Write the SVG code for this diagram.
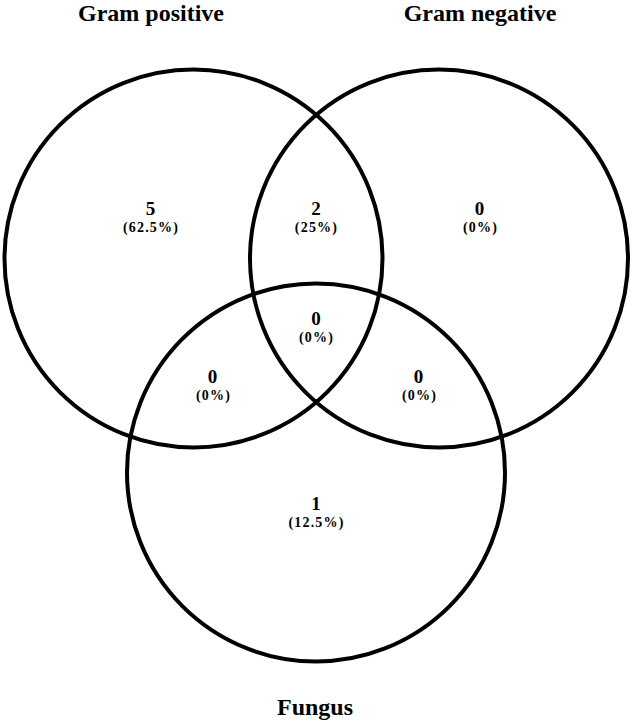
<svg xmlns="http://www.w3.org/2000/svg" width="632" height="721" viewBox="0 0 632 721">
<style>
.c{fill:none;stroke:#000;stroke-width:4}
text{font-family:'Liberation Serif','Times New Roman','DejaVu Serif',serif;font-weight:700;fill:#000;text-anchor:middle}
.title{font-size:24px}
.n{font-size:19px}
.p{font-size:14px;letter-spacing:1.2px}
</style>
<rect width="632" height="721" fill="#fff"/>
<g id="gram-positive">
<circle class="c" cx="193.5" cy="258.5" r="189"/>
<text class="title" x="151" y="21">Gram positive</text>
</g>
<g id="gram-negative">
<circle class="c" cx="439" cy="258.5" r="189"/>
<text class="title" x="480" y="21">Gram negative</text>
</g>
<g id="fungus">
<circle class="c" cx="316" cy="472.5" r="189"/>
<text class="title" x="315" y="715">Fungus</text>
</g>
<g id="labels">
<text class="n" x="150.5" y="215">5</text>
<text class="p" x="151" y="232">(62.5%)</text>
<text class="n" x="316" y="215">2</text>
<text class="p" x="316.5" y="232">(25%)</text>
<text class="n" x="479.5" y="215">0</text>
<text class="p" x="480.5" y="232">(0%)</text>
<text class="n" x="316" y="325">0</text>
<text class="p" x="316.5" y="342">(0%)</text>
<text class="n" x="212.5" y="383">0</text>
<text class="p" x="213.5" y="400">(0%)</text>
<text class="n" x="418.5" y="383">0</text>
<text class="p" x="419.5" y="400">(0%)</text>
<text class="n" x="316" y="510">1</text>
<text class="p" x="316.5" y="527">(12.5%)</text>
</g>
</svg>
